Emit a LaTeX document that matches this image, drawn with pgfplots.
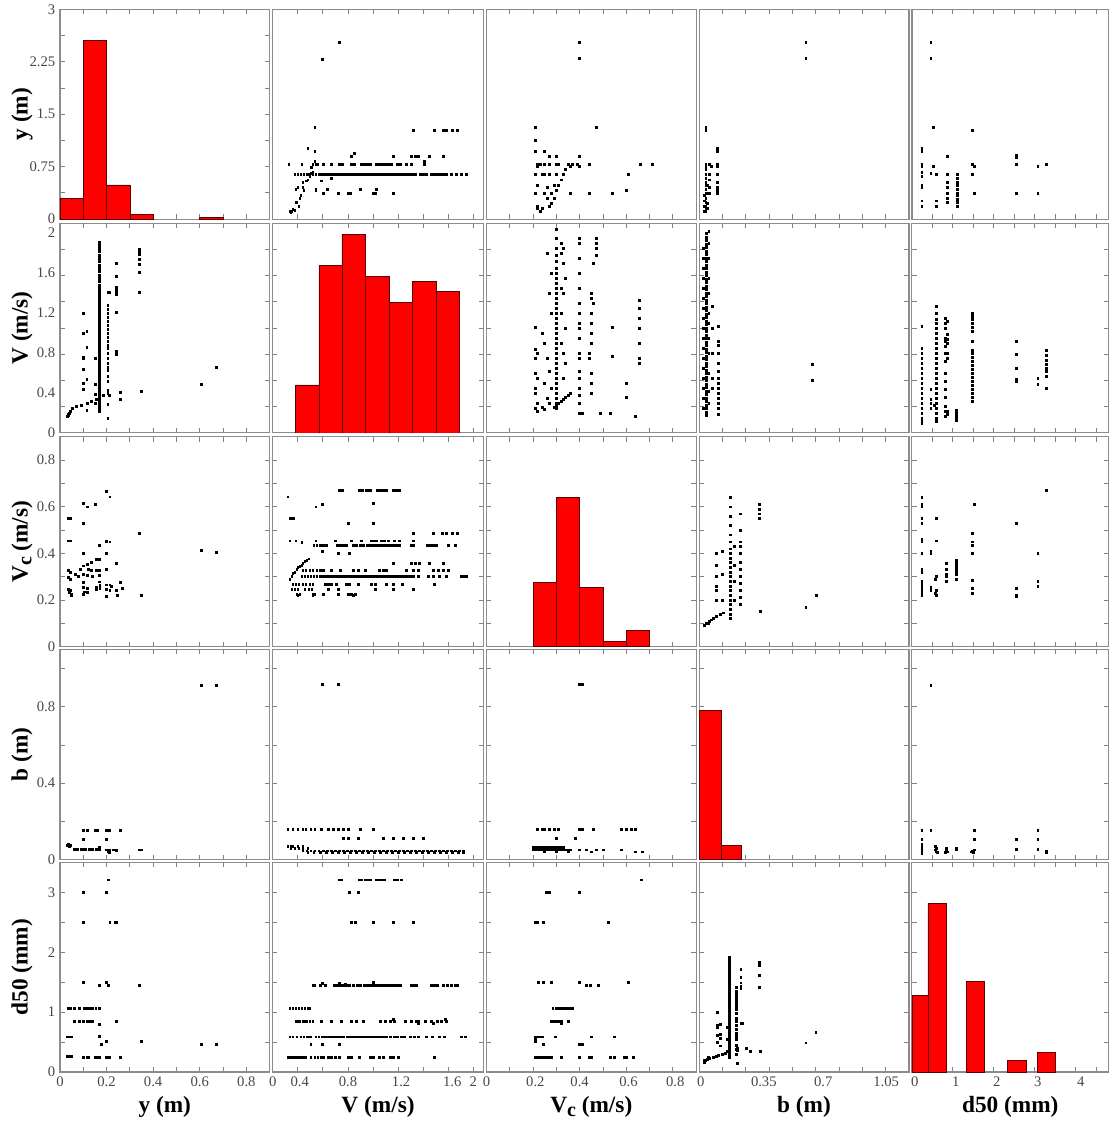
\documentclass[border=0pt]{standalone}
\usepackage{pgfplots}
\pgfplotsset{compat=1.18}
\usepackage{fontspec}
\setmainfont{Liberation Serif}
\definecolor{bardk}{RGB}{90,0,0}
\definecolor{barred}{RGB}{255,0,0}
\pgfplotsset{
 panel/.style={scale only axis, anchor=north west, height=157.5pt,
   axis line style={draw=black!45, line width=0.9pt},
   tick align=inside, major tick length=0pt, minor tick length=3.6pt,
   tick style={draw=black!50, line width=0.6pt},
   xticklabels={}, yticklabels={},
   tick label style={font=\fontsize{11}{13}\selectfont, text=black!72},
   ylabel style={at={(axis description cs:-0.181,0.5)}, anchor=center, font=\fontsize{17.5}{20}\selectfont\bfseries},
   xlabel style={at={(axis description cs:0.5,-0.165)}, anchor=center, font=\fontsize{17.5}{20}\selectfont\bfseries}},
 c1/.style={width=157.5pt, xmin=0, xmax=0.9, xtick={0,0.2,0.4,0.6,0.8}, minor xtick={0.1,0.2,0.3,0.4,0.5,0.6,0.7,0.8}},
 c2/.style={width=158.25pt, xmin=0, xmax=2.1, xtick={0,0.27,0.75,1.28,1.79,2.0}, minor xtick={0.25,0.5,0.75,1,1.25,1.5,1.75,2}},
 c3/.style={width=157.5pt, xmin=0, xmax=0.9, xtick={0,0.21,0.40,0.61,0.81}, minor xtick={0.1,0.2,0.3,0.4,0.5,0.6,0.7,0.8}},
 c4/.style={width=157.5pt, xmin=0, xmax=1.2, xtick={0.01,0.37,0.71,1.07}, minor xtick={0.1333,0.2667,0.4,0.5333,0.6667,0.8,0.9333,1.0667}},
 c5/.style={width=147.75pt, xmin=0, xmax=4.8, xtick={0.07,1.07,2.07,3.07,4.12}, minor xtick={0.5,1,1.5,2,2.5,3,3.5,4,4.5}},
 r1/.style={ymin=0, ymax=0.8, ytick=\empty, minor ytick={0.1,0.2,0.3,0.4,0.5,0.6,0.7}},
 r1h/.style={ymin=0, ymax=3, ytick={0,0.75,1.5,2.25,3}, minor ytick={0.375,0.75,1.125,1.5,1.875,2.25,2.625}},
 r2/.style={ymin=0, ymax=2.1, ytick={0,0.4,0.8,1.2,1.6,2}, minor ytick={0.2625,0.525,0.7875,1.05,1.3125,1.575,1.8375}},
 r3/.style={ymin=0, ymax=0.9, ytick={0,0.2,0.4,0.6,0.8}, minor ytick={0.1,0.2,0.3,0.4,0.5,0.6,0.7,0.8}},
 r4/.style={ymin=0, ymax=1.1, ytick={0,0.4,0.8}, minor ytick={0.2,0.4,0.6,0.8,1.0}},
 r5/.style={ymin=0, ymax=3.5, ytick={0,1,2,3}, minor ytick={0.5,1,1.5,2,2.5,3}},
 bl1/.style={xticklabels={0,0.2,0.4,0.6,0.8}, xlabel={y (m)}},
 bl2/.style={xticklabels={0,0.4,0.8,1.2,1.6,2}, xlabel={V (m/s)}},
 bl3/.style={xticklabels={0,0.2,0.4,0.6,0.8}, xlabel={V\raisebox{-0.35ex}{\fontsize{15}{15}\selectfont c} (m/s)}},
 bl4/.style={xticklabels={0,0.35,0.7,1.05}, xlabel={b (m)}},
 bl5/.style={xticklabels={0,1,2,3,4}, xlabel={d50 (mm)}},
 sc/.style={only marks, mark=square*, mark size=0.7pt, color=black},
 hb/.style={ybar interval, fill=barred, draw=bardk, line width=0.5pt}
}
\begin{document}
\begin{tikzpicture}
\path (0,0) rectangle (833.25pt,-844.5pt);
% ---------------- Row 1 : y (m)
\begin{axis}[panel, c1, r1h, at={(45pt,-6pt)}, yticklabels={0,0.75,1.5,2.25,3}, ylabel={y (m)}]
\addplot[hb] coordinates {(0,0.30) (0.1,2.55) (0.2,0.49) (0.3,0.07) (0.4,0)};
\addplot[hb] coordinates {(0.6,0.03) (0.7,0)};
\end{axis}
\begin{axis}[panel, c2, r1, at={(204.75pt,-6pt)}]
\addplot[sc] coordinates {(0.22,0.17) (0.25,0.17) (0.28,0.17) (0.31,0.17) (0.34,0.17) (0.37,0.17) (0.40,0.17) (0.43,0.17) (0.46,0.17) (0.49,0.17) (0.52,0.17) (0.55,0.17) (0.58,0.17) (0.61,0.17) (0.64,0.17) (0.67,0.17) (0.70,0.17) (0.73,0.17) (0.76,0.17) (0.79,0.17) (0.82,0.17) (0.85,0.17) (0.88,0.17) (0.91,0.17) (0.94,0.17) (0.97,0.17) (1.00,0.17) (1.03,0.17) (1.06,0.17) (1.09,0.17) (1.12,0.17) (1.15,0.17) (1.18,0.17) (1.21,0.17) (1.24,0.17) (1.27,0.17) (1.30,0.17) (1.33,0.17) (1.36,0.17) (1.39,0.17) (1.42,0.17) (1.47,0.17) (1.50,0.17) (1.53,0.17) (1.58,0.17) (1.61,0.17) (1.64,0.17) (1.67,0.17) (1.70,0.17) (1.73,0.17) (1.78,0.17) (1.83,0.17) (1.88,0.17) (1.93,0.17)
(0.50,0.208) (0.58,0.208) (0.66,0.208) (0.69,0.208) (0.78,0.208) (0.81,0.208) (0.88,0.208) (0.91,0.208) (0.94,0.208) (0.97,0.208) (1.03,0.208) (1.06,0.208) (1.09,0.208) (1.12,0.208) (1.15,0.208) (1.18,0.208) (1.24,0.208) (1.27,0.208) (1.33,0.208) (1.38,0.208) (1.51,0.208) (1.51,0.22)
(0.78,0.24) (0.81,0.25) (1.20,0.24) (1.38,0.24) (1.42,0.24) (1.45,0.24) (1.56,0.24) (1.70,0.24)
(1.40,0.34) (1.61,0.34) (1.70,0.34) (1.73,0.34) (1.79,0.34) (1.84,0.34)
(0.50,0.10) (0.65,0.10) (0.75,0.10) (0.77,0.10) (1.00,0.10) (1.02,0.10) (1.20,0.10)
(0.23,0.115) (0.43,0.115) (0.54,0.115) (0.87,0.115) (1.03,0.115)
(0.17,0.03) (0.18,0.027) (0.19,0.03) (0.20,0.037) (0.22,0.035) (0.235,0.063) (0.26,0.05) (0.27,0.08) (0.28,0.09) (0.30,0.12) (0.31,0.11) (0.335,0.146) (0.35,0.15) (0.36,0.172) (0.37,0.165) (0.385,0.197) (0.40,0.18) (0.42,0.22) (0.435,0.21) (0.40,0.21) (0.45,0.21)
(0.42,0.26) (0.35,0.27) (0.42,0.35) (0.16,0.21) (0.29,0.21) (0.58,0.157) (0.43,0.11) (0.48,0.146) (0.66,0.674) (0.49,0.61) (0.38,0.175) (0.30,0.14) (0.25,0.12)};
\end{axis}
\begin{axis}[panel, c3, r1, at={(365.25pt,-6pt)}]
\addplot[sc] coordinates {(0.21,0.35) (0.21,0.30) (0.21,0.26) (0.22,0.21) (0.22,0.20) (0.21,0.17) (0.22,0.13) (0.21,0.10) (0.22,0.05) (0.22,0.04) (0.23,0.03) (0.24,0.04) (0.25,0.26) (0.25,0.21) (0.25,0.17) (0.26,0.12) (0.26,0.08) (0.27,0.24) (0.27,0.21) (0.27,0.17) (0.28,0.10) (0.27,0.05) (0.28,0.06) (0.29,0.08) (0.30,0.11) (0.31,0.13) (0.32,0.15) (0.33,0.17) (0.34,0.19) (0.35,0.21) (0.30,0.17) (0.30,0.21) (0.30,0.24) (0.31,0.21) (0.29,0.13) (0.24,0.17) (0.23,0.21) (0.25,0.10) (0.36,0.20) (0.37,0.21) (0.39,0.21) (0.40,0.20) (0.40,0.24) (0.40,0.675) (0.40,0.615) (0.44,0.21) (0.47,0.35) (0.54,0.10) (0.60,0.11) (0.61,0.17) (0.66,0.21) (0.71,0.21) (0.44,0.10) (0.36,0.10)};
\end{axis}
\begin{axis}[panel, c4, r1, at={(525pt,-6pt)}]
\addplot[sc] coordinates {(0.038,0.35) (0.038,0.34) (0.038,0.21) (0.038,0.20) (0.038,0.19) (0.038,0.17) (0.038,0.155) (0.038,0.14) (0.038,0.13) (0.038,0.115) (0.038,0.10) (0.038,0.08) (0.038,0.065) (0.038,0.05) (0.038,0.04) (0.038,0.03) (0.03,0.03) (0.03,0.05) (0.03,0.07) (0.03,0.09) (0.045,0.04) (0.045,0.06) (0.045,0.10) (0.045,0.13) (0.06,0.21) (0.06,0.17) (0.06,0.15) (0.06,0.12) (0.06,0.10) (0.067,0.20) (0.105,0.27) (0.105,0.26) (0.105,0.21) (0.105,0.20) (0.105,0.17) (0.105,0.14) (0.105,0.12) (0.105,0.11) (0.105,0.10) (0.61,0.674) (0.61,0.615)};
\end{axis}
\begin{axis}[panel, c5, r1, at={(684.75pt,-6pt)}]
\addplot[sc] coordinates {(0.24,0.27) (0.24,0.26) (0.24,0.21) (0.24,0.20) (0.24,0.18) (0.24,0.165) (0.24,0.13) (0.24,0.12) (0.24,0.07) (0.24,0.05) (0.46,0.674) (0.46,0.615) (0.53,0.35) (0.53,0.20) (0.46,0.175) (0.59,0.17) (0.59,0.07) (0.59,0.05) (0.86,0.24) (0.86,0.17) (0.86,0.14) (0.86,0.12) (0.86,0.10) (0.86,0.08) (0.86,0.063) (1.10,0.17) (1.10,0.155) (1.10,0.14) (1.10,0.13) (1.10,0.115) (1.10,0.10) (1.10,0.09) (1.10,0.077) (1.10,0.064) (1.10,0.05) (1.47,0.34) (1.47,0.21) (1.47,0.17) (1.53,0.20) (1.53,0.10) (2.54,0.245) (2.54,0.235) (2.54,0.21) (2.54,0.10) (3.07,0.20) (3.07,0.10) (3.28,0.21)};
\end{axis}
% ---------------- Row 2 : V (m/s)
\begin{axis}[panel, c1, r2, at={(45pt,-166.5pt)}, yticklabels={0,0.4,0.8,1.2,1.6,2}, ylabel={V (m/s)}]
\addplot[sc] coordinates {(0.167,0.22) (0.167,0.25) (0.167,0.28) (0.167,0.31) (0.167,0.34) (0.167,0.37) (0.167,0.40) (0.167,0.43) (0.167,0.46) (0.167,0.49) (0.167,0.52) (0.167,0.55) (0.167,0.58) (0.167,0.61) (0.167,0.64) (0.167,0.67) (0.167,0.70) (0.167,0.73) (0.167,0.76) (0.167,0.79) (0.167,0.82) (0.167,0.85) (0.167,0.88) (0.167,0.91) (0.167,0.94) (0.167,0.97) (0.167,1.00) (0.167,1.03) (0.167,1.06) (0.167,1.09) (0.167,1.12) (0.167,1.15) (0.167,1.18) (0.167,1.21) (0.167,1.24) (0.167,1.27) (0.167,1.30) (0.167,1.33) (0.167,1.36) (0.167,1.39) (0.167,1.42) (0.167,1.45) (0.167,1.48) (0.167,1.52) (0.167,1.55) (0.167,1.58) (0.167,1.62) (0.167,1.65) (0.167,1.68) (0.167,1.72) (0.167,1.75) (0.167,1.78) (0.167,1.82) (0.167,1.85) (0.167,1.88) (0.167,1.91)
(0.205,1.41) (0.205,1.28) (0.205,1.24) (0.205,1.20) (0.205,1.16) (0.205,1.12) (0.205,1.08) (0.205,1.04) (0.205,1.00) (0.205,0.96) (0.205,0.92) (0.205,0.88) (0.205,0.85) (0.205,0.80) (0.205,0.75) (0.205,0.70) (0.205,0.66) (0.205,0.63) (0.205,0.57) (0.205,0.52) (0.205,0.43) (0.205,0.40) (0.205,0.29) (0.205,0.15) (0.21,1.41) (0.21,0.38)
(0.24,1.70) (0.24,1.57) (0.24,1.46) (0.24,1.43) (0.24,1.41) (0.24,1.39) (0.24,1.21) (0.24,0.82) (0.24,0.79)
(0.34,1.84) (0.34,1.82) (0.34,1.79) (0.34,1.74) (0.34,1.69) (0.34,1.61) (0.34,1.41) (0.35,0.42) (0.26,0.41) (0.26,0.34)
(0.10,1.20) (0.10,1.00) (0.10,0.76) (0.10,0.75) (0.10,0.64) (0.10,0.50) (0.10,0.44) (0.115,1.02) (0.115,0.86) (0.115,0.54) (0.115,0.23) (0.15,0.75) (0.15,0.49) (0.15,0.39) (0.15,0.30)
(0.033,0.17) (0.036,0.19) (0.043,0.22) (0.054,0.25) (0.071,0.27) (0.093,0.28) (0.117,0.30) (0.136,0.32) (0.157,0.34) (0.171,0.36) (0.186,0.38) (0.035,0.18) (0.04,0.20)
(0.607,0.49) (0.672,0.66)};
\end{axis}
\begin{axis}[panel, c2, r2, at={(204.75pt,-166.5pt)}]
\addplot[hb] coordinates {(0.23,0.48) (0.46,1.68) (0.69,1.99) (0.92,1.57) (1.16,1.31) (1.39,1.52) (1.63,1.42) (1.86,0)};
\end{axis}
\begin{axis}[panel, c3, r2, at={(365.25pt,-166.5pt)}]
\addplot[sc] coordinates {(0.30,2.04) (0.30,1.95) (0.30,1.85) (0.30,1.78) (0.30,1.72) (0.30,1.65) (0.30,1.60) (0.30,1.55) (0.30,1.50) (0.30,1.45) (0.30,1.40) (0.30,1.35) (0.30,1.30) (0.30,1.25) (0.30,1.20) (0.30,1.15) (0.30,1.10) (0.30,1.05) (0.30,1.00) (0.30,0.95) (0.30,0.90) (0.30,0.85) (0.30,0.80) (0.30,0.75) (0.30,0.70) (0.30,0.65) (0.30,0.60) (0.30,0.55) (0.30,0.50) (0.30,0.45) (0.30,0.40) (0.30,0.35) (0.30,0.30) (0.30,0.25)
(0.21,1.06) (0.21,0.84) (0.22,0.80) (0.21,0.75) (0.21,0.60) (0.22,0.55) (0.21,0.45) (0.21,0.40) (0.22,0.30) (0.21,0.25) (0.22,0.22)
(0.24,1.00) (0.25,0.90) (0.26,0.75) (0.27,0.62) (0.25,0.50) (0.28,0.45) (0.26,0.35) (0.27,0.30) (0.24,0.26) (0.25,0.24) (0.28,1.20) (0.27,1.40) (0.26,1.80) (0.28,1.60)
(0.29,0.26) (0.30,0.28) (0.31,0.30) (0.32,0.32) (0.33,0.34) (0.34,0.36) (0.35,0.38) (0.36,0.40)
(0.32,1.90) (0.33,1.85) (0.32,1.80) (0.33,1.70) (0.34,1.55) (0.32,1.45) (0.33,1.40) (0.32,1.20) (0.34,1.05) (0.32,0.90) (0.33,0.80) (0.34,0.70) (0.33,0.55)
(0.40,1.95) (0.40,1.90) (0.40,1.75) (0.40,1.60) (0.40,1.45) (0.40,1.30) (0.40,1.20) (0.40,1.10) (0.40,1.05) (0.40,0.95) (0.40,0.80) (0.40,0.75) (0.40,0.62) (0.40,0.55) (0.40,0.45) (0.40,0.38) (0.40,0.30) (0.40,0.20)
(0.47,1.95) (0.47,1.90) (0.47,1.85) (0.47,1.78) (0.46,1.70) (0.45,1.40) (0.45,1.35) (0.46,1.30) (0.45,1.20) (0.45,1.10) (0.45,1.00) (0.45,0.90) (0.44,0.80) (0.44,0.75) (0.45,0.60) (0.45,0.50) (0.45,0.40)
(0.54,1.06) (0.54,0.77) (0.60,0.50) (0.60,0.36) (0.655,1.33) (0.655,1.25) (0.655,1.15) (0.655,1.05) (0.655,0.90) (0.655,0.75) (0.655,0.70) (0.64,0.17) (0.49,0.20) (0.41,0.20) (0.53,0.20)};
\end{axis}
\begin{axis}[panel, c4, r2, at={(525pt,-166.5pt)}]
\addplot[sc] coordinates {(0.04,0.18) (0.04,0.21) (0.04,0.25) (0.04,0.28) (0.04,0.32) (0.04,0.35) (0.04,0.39) (0.04,0.42) (0.04,0.46) (0.04,0.49) (0.04,0.53) (0.04,0.56) (0.04,0.60) (0.04,0.63) (0.04,0.67) (0.04,0.70) (0.04,0.74) (0.04,0.77) (0.04,0.81) (0.04,0.84) (0.04,0.88) (0.04,0.91) (0.04,0.95) (0.04,0.98) (0.04,1.02) (0.04,1.05) (0.04,1.09) (0.04,1.12) (0.04,1.16) (0.04,1.19) (0.04,1.23) (0.04,1.26) (0.04,1.30) (0.04,1.33) (0.04,1.37) (0.04,1.40) (0.04,1.44) (0.04,1.47) (0.04,1.51) (0.04,1.54) (0.04,1.58) (0.04,1.61) (0.04,1.65) (0.04,1.68) (0.04,1.72) (0.04,1.75) (0.04,1.79) (0.04,1.82) (0.04,1.86) (0.04,1.89) (0.04,1.93) (0.04,1.96) (0.04,2.00)
(0.025,0.25) (0.025,0.35) (0.025,0.45) (0.025,0.55) (0.025,0.65) (0.025,0.75) (0.025,0.85) (0.025,0.95) (0.025,1.05) (0.025,1.15) (0.025,1.25) (0.025,1.35) (0.025,1.45) (0.025,1.55) (0.025,1.65) (0.025,1.75) (0.025,1.85)
(0.055,0.30) (0.055,0.42) (0.055,0.60) (0.055,0.80) (0.055,0.95) (0.055,1.10) (0.055,1.20) (0.055,1.40) (0.055,1.55) (0.055,1.75) (0.055,1.90) (0.055,2.02)
(0.073,1.27) (0.073,1.05) (0.073,0.80) (0.073,0.55) (0.073,0.45)
(0.109,1.07) (0.109,0.92) (0.109,0.88) (0.109,0.80) (0.109,0.70) (0.109,0.62) (0.109,0.55) (0.109,0.50) (0.109,0.45) (0.109,0.40) (0.109,0.35) (0.109,0.30) (0.109,0.25) (0.109,0.19)
(0.648,0.69) (0.648,0.53)};
\end{axis}
\begin{axis}[panel, c5, r2, at={(684.75pt,-166.5pt)}]
\addplot[sc] coordinates {(0.24,1.07) (0.24,0.85) (0.24,0.80) (0.24,0.75) (0.24,0.70) (0.24,0.65) (0.24,0.60) (0.24,0.55) (0.24,0.50) (0.24,0.45) (0.24,0.40) (0.24,0.35) (0.24,0.30) (0.24,0.25) (0.24,0.20) (0.24,0.15) (0.24,0.12) (0.24,0.10)
(0.46,0.44) (0.46,0.34) (0.46,0.30) (0.46,0.25) (0.54,0.28)
(0.59,1.27) (0.59,1.20) (0.59,1.14) (0.59,1.10) (0.59,1.05) (0.59,1.00) (0.59,0.95) (0.59,0.90) (0.59,0.85) (0.59,0.80) (0.59,0.75) (0.59,0.70) (0.59,0.65) (0.59,0.60) (0.59,0.55) (0.59,0.50) (0.59,0.45) (0.59,0.40) (0.59,0.35) (0.59,0.30) (0.59,0.25) (0.59,0.20) (0.59,0.15) (0.59,0.12)
(0.81,1.15) (0.81,1.10) (0.81,1.05) (0.81,0.95) (0.81,0.92) (0.81,0.87) (0.81,0.80) (0.81,0.72) (0.81,0.60) (0.81,0.52) (0.81,0.44) (0.81,0.36) (0.81,0.27) (0.81,0.22) (0.81,0.17)
(0.86,1.12) (0.86,0.99) (0.86,0.94) (0.86,0.90) (0.86,0.80) (0.86,0.75) (0.86,0.22) (0.86,0.19)
(1.08,0.23) (1.08,0.20) (1.08,0.17) (1.08,0.15) (1.08,0.13)
(1.47,1.20) (1.47,1.17) (1.47,1.14) (1.47,1.10) (1.47,1.06) (1.47,1.02) (1.47,0.92) (1.47,0.83) (1.47,0.80) (1.47,0.76) (1.47,0.72) (1.47,0.68) (1.47,0.64) (1.47,0.60) (1.47,0.56) (1.47,0.52) (1.47,0.48) (1.47,0.44) (1.47,0.40) (1.47,0.36) (1.47,0.32)
(2.54,0.92) (2.54,0.79) (2.54,0.65) (2.54,0.54) (2.54,0.52) (3.07,0.55) (3.07,0.49)
(3.28,0.83) (3.28,0.78) (3.28,0.73) (3.28,0.69) (3.28,0.65) (3.28,0.62) (3.28,0.57) (3.28,0.45)};
\end{axis}
% ---------------- Row 3 : Vc (m/s)
\begin{axis}[panel, c1, r3, at={(45pt,-327pt)}, yticklabels={0,0.2,0.4,0.6,0.8}, ylabel={V\raisebox{-0.35ex}{\fontsize{15}{15}\selectfont c} (m/s)}]
\addplot[sc] coordinates {(0.036,0.551) (0.043,0.551) (0.036,0.454) (0.043,0.454) (0.036,0.326) (0.043,0.319) (0.036,0.297) (0.043,0.290) (0.036,0.247) (0.043,0.240) (0.047,0.225) (0.05,0.218) (0.04,0.232) (0.064,0.311) (0.086,0.333) (0.1,0.347) (0.117,0.355) (0.136,0.363) (0.157,0.373) (0.167,0.373) (0.1,0.614) (0.117,0.600) (0.15,0.612) (0.1,0.529) (0.1,0.400) (0.1,0.311) (0.117,0.307) (0.136,0.326) (0.157,0.326) (0.1,0.275) (0.1,0.255) (0.105,0.235) (0.117,0.25) (0.117,0.232) (0.157,0.255) (0.157,0.247) (0.167,0.278) (0.171,0.264) (0.171,0.25) (0.1,0.224) (0.169,0.435) (0.169,0.328) (0.169,0.307) (0.197,0.40) (0.197,0.216) (0.2,0.668) (0.214,0.643) (0.2,0.453) (0.214,0.45) (0.2,0.33) (0.2,0.265) (0.214,0.265) (0.2,0.245) (0.214,0.24) (0.22,0.26) (0.24,0.357) (0.243,0.242) (0.247,0.22) (0.26,0.276) (0.267,0.251) (0.34,0.487) (0.35,0.221) (0.607,0.412) (0.672,0.404) (0.08,0.30) (0.12,0.33) (0.14,0.30)};
\end{axis}
\begin{axis}[panel, c2, r3, at={(204.75pt,-327pt)}]
\addplot[sc] coordinates {(0.66,0.669) (0.675,0.669) (0.69,0.669) (0.86,0.669) (0.875,0.669) (0.89,0.669) (0.93,0.669) (0.95,0.669) (0.97,0.669) (1.04,0.669) (1.07,0.669) (1.10,0.669) (1.13,0.669) (1.20,0.669) (1.23,0.669) (1.26,0.669)
(0.15,0.643) (0.43,0.60) (0.49,0.612) (1.00,0.614) (0.17,0.551) (0.19,0.551) (0.21,0.551) (0.75,0.529) (1.00,0.529)
(1.40,0.487) (1.60,0.487) (1.69,0.487) (1.73,0.487) (1.79,0.487) (1.84,0.487)
(0.17,0.454) (0.23,0.454) (0.29,0.448) (0.43,0.454) (0.62,0.454) (0.78,0.454) (0.88,0.454) (0.98,0.454) (1.01,0.454) (1.03,0.454) (1.08,0.454) (1.11,0.454) (1.15,0.454) (1.21,0.454) (1.26,0.454) (1.40,0.454)
(0.41,0.433) (0.44,0.433) (0.47,0.433) (0.50,0.433) (0.53,0.433) (0.64,0.433) (0.67,0.433) (0.70,0.433) (0.73,0.433) (0.80,0.433) (0.83,0.433) (0.87,0.433) (0.90,0.433) (0.94,0.433) (0.97,0.433) (1.00,0.433) (1.03,0.433) (1.06,0.433) (1.09,0.433) (1.12,0.433) (1.15,0.433) (1.18,0.433) (1.21,0.433) (1.24,0.433) (1.26,0.433) (1.38,0.433) (1.40,0.433) (1.54,0.433) (1.57,0.433) (1.60,0.433) (1.63,0.433) (1.75,0.433) (1.82,0.433)
(0.49,0.41) (0.65,0.40) (0.76,0.40)
(1.20,0.357) (1.38,0.357) (1.42,0.357) (1.46,0.357) (1.56,0.357) (1.70,0.357)
(0.17,0.29) (0.19,0.30) (0.20,0.313) (0.22,0.32) (0.24,0.33) (0.25,0.34) (0.27,0.345) (0.29,0.35) (0.30,0.358) (0.32,0.365) (0.34,0.37) (0.36,0.377)
(0.30,0.329) (0.33,0.329) (0.37,0.329) (0.40,0.329) (0.44,0.329) (0.47,0.329) (0.50,0.329) (0.58,0.329) (0.67,0.329) (0.80,0.329) (0.85,0.329) (0.92,0.329) (1.06,0.329) (1.10,0.329) (1.13,0.329) (1.33,0.329) (1.40,0.329) (1.45,0.329) (1.60,0.329) (1.65,0.329) (1.70,0.329) (1.75,0.329)
(0.29,0.301) (0.32,0.301) (0.35,0.301) (0.38,0.301) (0.41,0.301) (0.44,0.301) (0.47,0.301) (0.50,0.301) (0.53,0.301) (0.56,0.301) (0.59,0.301) (0.62,0.301) (0.65,0.301) (0.68,0.301) (0.71,0.301) (0.74,0.301) (0.77,0.301) (0.80,0.301) (0.83,0.301) (0.86,0.301) (0.89,0.301) (0.92,0.301) (0.95,0.301) (0.98,0.301) (1.01,0.301) (1.04,0.301) (1.07,0.301) (1.10,0.301) (1.13,0.301) (1.16,0.301) (1.19,0.301) (1.22,0.301) (1.25,0.301) (1.28,0.301) (1.31,0.301) (1.34,0.301) (1.37,0.301) (1.40,0.301) (1.45,0.301) (1.55,0.301) (1.60,0.301) (1.66,0.301) (1.73,0.301) (1.88,0.301) (1.91,0.301) (1.93,0.301)
(0.20,0.268) (0.23,0.268) (0.26,0.268) (0.30,0.268) (0.33,0.268) (0.37,0.268) (0.40,0.268) (0.52,0.268) (0.55,0.268) (0.58,0.268) (0.63,0.268) (0.73,0.268) (0.76,0.268) (0.85,0.268) (0.98,0.268) (1.02,0.268) (1.13,0.268) (1.20,0.268) (1.29,0.268) (1.61,0.268)
(0.19,0.247) (0.22,0.247) (0.25,0.247) (0.32,0.247) (0.36,0.247) (0.39,0.247) (0.55,0.247) (0.65,0.247) (1.02,0.247) (1.20,0.247) (1.40,0.247)
(0.24,0.225) (0.27,0.225) (0.40,0.225) (0.42,0.225) (0.50,0.225) (0.65,0.225) (0.75,0.225) (0.78,0.225) (0.82,0.225) (0.25,0.219) (0.40,0.219) (0.80,0.219)};
\end{axis}
\begin{axis}[panel, c3, r3, at={(365.25pt,-327pt)}]
\addplot[hb] coordinates {(0.2,0.275) (0.3,0.64) (0.4,0.253) (0.5,0.021) (0.6,0.069) (0.7,0)};
\end{axis}
\begin{axis}[panel, c4, r3, at={(525pt,-327pt)}]
\addplot[sc] coordinates {(0.03,0.09) (0.04,0.10) (0.05,0.10) (0.06,0.11) (0.07,0.115) (0.08,0.12) (0.10,0.13) (0.12,0.14) (0.14,0.145)
(0.177,0.64) (0.177,0.60) (0.177,0.56) (0.177,0.52) (0.177,0.48) (0.177,0.45) (0.177,0.42) (0.177,0.40) (0.177,0.38) (0.177,0.36) (0.177,0.34) (0.177,0.32) (0.177,0.30) (0.177,0.28) (0.177,0.26) (0.177,0.24) (0.177,0.22) (0.177,0.20) (0.177,0.18) (0.177,0.16) (0.177,0.14) (0.177,0.12)
(0.10,0.40) (0.10,0.35) (0.10,0.30) (0.10,0.26) (0.10,0.24) (0.10,0.20) (0.13,0.41) (0.13,0.31) (0.13,0.20)
(0.235,0.57) (0.235,0.50) (0.235,0.45) (0.235,0.43) (0.235,0.40) (0.235,0.36) (0.235,0.33) (0.235,0.30) (0.235,0.27) (0.235,0.24) (0.235,0.21) (0.235,0.18)
(0.20,0.43) (0.20,0.35) (0.20,0.28) (0.20,0.20) (0.345,0.61) (0.345,0.59) (0.345,0.57) (0.345,0.55) (0.35,0.15) (0.61,0.17) (0.67,0.22)};
\end{axis}
\begin{axis}[panel, c5, r3, at={(684.75pt,-327pt)}]
\addplot[sc] coordinates {(0.24,0.64) (0.24,0.61) (0.24,0.60) (0.24,0.55) (0.24,0.53) (0.24,0.46) (0.24,0.45) (0.24,0.40) (0.24,0.33) (0.24,0.32) (0.24,0.28) (0.24,0.27) (0.24,0.26) (0.24,0.25) (0.24,0.24) (0.24,0.23) (0.24,0.22) (0.46,0.41) (0.46,0.40) (0.46,0.254) (0.46,0.24) (0.59,0.55) (0.59,0.454) (0.59,0.30) (0.57,0.29) (0.59,0.24) (0.56,0.23) (0.59,0.22) (0.84,0.357) (0.84,0.33) (0.84,0.31) (0.84,0.30) (0.84,0.28) (1.08,0.37) (1.08,0.36) (1.08,0.35) (1.08,0.34) (1.08,0.33) (1.08,0.32) (1.08,0.31) (1.08,0.29) (1.47,0.487) (1.47,0.45) (1.47,0.435) (1.47,0.40) (1.47,0.286) (1.47,0.25) (1.47,0.227) (1.53,0.611) (2.54,0.53) (2.54,0.25) (2.54,0.22) (2.54,0.215) (3.07,0.40) (3.07,0.28) (3.07,0.26) (3.28,0.669)};
\end{axis}
% ---------------- Row 4 : b (m)
\begin{axis}[panel, c1, r4, at={(45pt,-486.75pt)}, yticklabels={0,0.4,0.8}, ylabel={b (m)}]
\addplot[sc] coordinates {(0.036,0.079) (0.04,0.075) (0.045,0.072) (0.03,0.075) (0.04,0.068)
(0.06,0.055) (0.075,0.055) (0.09,0.055) (0.10,0.055) (0.11,0.055) (0.125,0.055) (0.14,0.055) (0.155,0.055) (0.167,0.055)
(0.06,0.05) (0.075,0.05) (0.09,0.05) (0.10,0.05) (0.11,0.05) (0.125,0.05) (0.14,0.05) (0.155,0.05) (0.167,0.05)
(0.10,0.152) (0.117,0.152) (0.15,0.152) (0.16,0.152) (0.20,0.152) (0.21,0.152) (0.26,0.152) (0.10,0.103) (0.20,0.103)
(0.20,0.05) (0.21,0.05) (0.23,0.05) (0.24,0.05) (0.34,0.05) (0.35,0.05) (0.167,0.065) (0.171,0.06) (0.205,0.04) (0.21,0.038) (0.24,0.045)
(0.607,0.915) (0.672,0.915)};
\end{axis}
\begin{axis}[panel, c2, r4, at={(204.75pt,-486.75pt)}]
\addplot[sc] coordinates {(0.15,0.157) (0.20,0.157) (0.25,0.157) (0.30,0.157) (0.33,0.157) (0.38,0.157) (0.42,0.157) (0.48,0.157) (0.55,0.157) (0.60,0.157) (0.65,0.157) (0.70,0.157) (0.75,0.157) (0.87,0.157) (1.00,0.157)
(0.15,0.07) (0.18,0.07) (0.20,0.07) (0.25,0.07) (0.30,0.07) (0.18,0.06) (0.22,0.06) (0.26,0.06) (0.30,0.06) (0.35,0.06)
(0.30,0.045) (0.34,0.045) (0.38,0.045) (0.42,0.045) (0.46,0.045) (0.50,0.045) (0.54,0.045) (0.58,0.045) (0.62,0.045) (0.66,0.045) (0.70,0.045) (0.74,0.045) (0.78,0.045) (0.82,0.045) (0.86,0.045) (0.90,0.045) (0.94,0.045) (0.98,0.045) (1.02,0.045) (1.06,0.045) (1.10,0.045) (1.14,0.045) (1.18,0.045) (1.22,0.045) (1.26,0.045) (1.30,0.045) (1.34,0.045) (1.38,0.045) (1.42,0.045) (1.46,0.045) (1.50,0.045) (1.54,0.045) (1.58,0.045) (1.62,0.045) (1.66,0.045) (1.70,0.045) (1.74,0.045) (1.78,0.045) (1.82,0.045) (1.86,0.045) (1.90,0.045)
(0.35,0.035) (0.41,0.035) (0.47,0.035) (0.53,0.035) (0.59,0.035) (0.65,0.035) (0.71,0.035) (0.77,0.035) (0.83,0.035) (0.89,0.035) (0.95,0.035) (1.01,0.035) (1.07,0.035) (1.13,0.035) (1.19,0.035) (1.25,0.035) (1.31,0.035) (1.37,0.035) (1.43,0.035) (1.49,0.035) (1.55,0.035) (1.61,0.035) (1.67,0.035) (1.73,0.035) (1.79,0.035) (1.85,0.035) (1.90,0.035)
(0.70,0.11) (0.75,0.11) (0.85,0.11) (1.10,0.11) (1.20,0.11) (1.30,0.11) (1.40,0.11) (1.50,0.11)
(0.49,0.916) (0.65,0.916)};
\end{axis}
\begin{axis}[panel, c3, r4, at={(365.25pt,-486.75pt)}]
\addplot[sc] coordinates {(0.22,0.157) (0.24,0.157) (0.25,0.157) (0.27,0.157) (0.29,0.157) (0.31,0.157) (0.40,0.157) (0.41,0.157) (0.46,0.157) (0.58,0.157) (0.60,0.157) (0.62,0.157) (0.64,0.157) (0.38,0.11) (0.30,0.11)
(0.20,0.065) (0.21,0.065) (0.22,0.065) (0.23,0.065) (0.24,0.065) (0.25,0.065) (0.26,0.065) (0.27,0.065) (0.28,0.065) (0.29,0.065) (0.30,0.065) (0.31,0.065) (0.32,0.065) (0.33,0.065)
(0.20,0.05) (0.21,0.05) (0.22,0.05) (0.23,0.05) (0.24,0.05) (0.25,0.05) (0.26,0.05) (0.27,0.05) (0.28,0.05) (0.29,0.05) (0.30,0.05) (0.31,0.05) (0.32,0.05) (0.33,0.05) (0.34,0.05) (0.35,0.05) (0.36,0.05) (0.40,0.05) (0.43,0.05) (0.47,0.05) (0.50,0.05) (0.58,0.05)
(0.25,0.04) (0.30,0.04) (0.35,0.04) (0.45,0.04) (0.64,0.04) (0.67,0.04) (0.40,0.916) (0.41,0.916)};
\end{axis}
\begin{axis}[panel, c4, r4, at={(525pt,-486.75pt)}]
\addplot[hb] coordinates {(0,0.78) (0.126,0.073) (0.24,0)};
\end{axis}
\begin{axis}[panel, c5, r4, at={(684.75pt,-486.75pt)}]
\addplot[sc] coordinates {(0.46,0.911) (0.24,0.153) (0.46,0.153) (1.53,0.153) (3.07,0.153) (0.24,0.104) (1.53,0.104) (2.54,0.104) (3.07,0.104)
(0.24,0.08) (0.24,0.07) (0.24,0.06) (0.24,0.05) (0.24,0.04) (0.24,0.03) (0.56,0.07) (0.59,0.06) (0.57,0.05) (0.60,0.04) (0.62,0.035) (0.84,0.06) (0.84,0.05) (0.86,0.04) (0.82,0.035) (1.08,0.06) (1.08,0.05) (1.47,0.045) (1.50,0.035) (1.53,0.05) (1.45,0.04) (2.54,0.051) (3.07,0.051) (3.28,0.045) (3.28,0.035)};
\end{axis}
% ---------------- Row 5 : d50 (mm)
\begin{axis}[panel, c1, r5, bl1, at={(45pt,-646.5pt)}, yticklabels={0,1,2,3}, ylabel={d50 (mm)}]
\addplot[sc] coordinates {(0.10,3.0) (0.20,3.0) (0.207,3.21) (0.10,2.5) (0.214,2.5) (0.236,2.5) (0.243,2.5) (0.10,1.5) (0.20,1.5) (0.167,1.45) (0.207,1.45) (0.34,1.45)
(0.037,1.07) (0.045,1.07) (0.06,1.07) (0.083,1.07) (0.103,1.07) (0.11,1.07) (0.122,1.07) (0.13,1.07) (0.139,1.07) (0.154,1.07) (0.167,1.07)
(0.06,0.85) (0.083,0.85) (0.10,0.85) (0.117,0.85) (0.128,0.85) (0.139,0.85) (0.24,0.85) (0.167,0.80)
(0.03,0.59) (0.04,0.59) (0.047,0.59) (0.167,0.60) (0.197,0.52) (0.35,0.52) (0.176,0.46) (0.607,0.46) (0.672,0.46)
(0.03,0.27) (0.035,0.27) (0.04,0.27) (0.047,0.27) (0.10,0.25) (0.117,0.25) (0.12,0.24) (0.15,0.25) (0.16,0.25) (0.167,0.25) (0.197,0.25) (0.205,0.25) (0.214,0.25) (0.26,0.25)};
\end{axis}
\begin{axis}[panel, c2, r5, bl2, at={(204.75pt,-646.5pt)}]
\addplot[sc] coordinates {(0.66,3.21) (0.68,3.21) (0.86,3.21) (0.88,3.21) (0.92,3.21) (0.95,3.21) (0.97,3.21) (1.03,3.21) (1.06,3.21) (1.09,3.21) (1.11,3.21) (1.21,3.21) (1.24,3.21) (1.28,3.21)
(0.76,3.0) (0.85,3.0) (0.78,2.5) (0.82,2.5) (1.00,2.5) (1.20,2.5) (1.40,2.5)
(0.40,1.45) (0.42,1.45) (0.47,1.45) (0.52,1.45) (0.61,1.45) (0.64,1.45) (0.67,1.45) (0.70,1.45) (0.73,1.45) (0.76,1.45) (0.80,1.45) (0.84,1.45) (0.87,1.45) (0.91,1.45) (0.94,1.45) (0.97,1.45) (1.00,1.45) (1.03,1.45) (1.06,1.45) (1.09,1.45) (1.12,1.45) (1.15,1.45) (1.18,1.45) (1.21,1.45) (1.24,1.45) (1.27,1.45) (1.38,1.45) (1.41,1.45) (1.43,1.45) (1.58,1.45) (1.61,1.45) (1.64,1.45) (1.70,1.45) (1.74,1.45) (1.78,1.45) (1.82,1.45) (1.84,1.45) (0.49,1.48) (0.66,1.48) (0.72,1.47) (1.00,1.50)
(0.17,1.07) (0.20,1.07) (0.23,1.07) (0.26,1.07) (0.29,1.07) (0.32,1.07) (0.35,1.07) (0.37,1.07)
(0.23,0.85) (0.25,0.85) (0.27,0.85) (0.30,0.85) (0.32,0.85) (0.34,0.85) (0.37,0.85) (0.40,0.85) (0.48,0.85) (0.58,0.85) (0.68,0.85) (0.78,0.85) (0.83,0.85) (0.90,0.85) (1.07,0.85) (1.12,0.85) (1.17,0.85) (1.21,0.85) (1.32,0.85) (1.38,0.85) (1.43,0.85) (1.45,0.85) (1.52,0.85) (1.58,0.85) (1.64,0.85) (1.68,0.85) (1.73,0.85) (1.45,0.82) (1.60,0.82) (1.20,0.88) (1.72,0.88)
(0.17,0.59) (0.20,0.59) (0.24,0.59) (0.28,0.59) (0.31,0.59) (0.34,0.59) (0.36,0.59) (0.38,0.59) (0.43,0.59) (0.46,0.59) (0.49,0.59) (0.52,0.59) (0.55,0.59) (0.58,0.59) (0.61,0.59) (0.64,0.59) (0.67,0.59) (0.70,0.59) (0.74,0.59) (0.77,0.59) (0.80,0.59) (0.83,0.59) (0.86,0.59) (0.89,0.59) (0.92,0.59) (0.95,0.59) (0.98,0.59) (1.01,0.59) (1.04,0.59) (1.07,0.59) (1.10,0.59) (1.13,0.59) (1.17,0.59) (1.21,0.59) (1.24,0.59) (1.28,0.59) (1.31,0.59) (1.37,0.59) (1.41,0.59) (1.45,0.59) (1.53,0.59) (1.59,0.59) (1.66,0.59) (1.71,0.59) (1.88,0.59) (1.92,0.59)
(0.38,0.46) (0.49,0.46) (0.66,0.46)
(0.15,0.25) (0.17,0.25) (0.19,0.25) (0.21,0.25) (0.23,0.25) (0.25,0.25) (0.27,0.25) (0.29,0.25) (0.31,0.25) (0.33,0.25) (0.38,0.25) (0.42,0.25) (0.45,0.25) (0.48,0.25) (0.50,0.25) (0.55,0.25) (0.58,0.25) (0.62,0.25) (0.66,0.25) (0.75,0.25) (0.78,0.25) (0.86,0.25) (0.97,0.25) (1.00,0.25) (1.06,0.25) (1.10,0.25) (1.17,0.25) (1.20,0.25) (1.25,0.25) (1.61,0.25)};
\end{axis}
\begin{axis}[panel, c3, r5, bl3, at={(365.25pt,-646.5pt)}]
\addplot[sc] coordinates {(0.663,3.21) (0.256,3.0) (0.27,3.0) (0.40,3.0) (0.21,2.5) (0.22,2.5) (0.245,2.5) (0.523,2.5)
(0.224,1.5) (0.245,1.5) (0.28,1.5) (0.40,1.5) (0.43,1.45) (0.445,1.45) (0.48,1.45) (0.61,1.5)
(0.285,1.07) (0.30,1.07) (0.31,1.07) (0.32,1.07) (0.33,1.07) (0.34,1.07) (0.35,1.07) (0.36,1.07) (0.37,1.07)
(0.28,0.85) (0.29,0.85) (0.30,0.85) (0.31,0.85) (0.32,0.85) (0.35,0.85) (0.32,0.81)
(0.21,0.59) (0.22,0.59) (0.23,0.59) (0.24,0.59) (0.295,0.59) (0.45,0.59) (0.55,0.59) (0.21,0.56) (0.21,0.52)
(0.245,0.46) (0.40,0.46) (0.41,0.46)
(0.21,0.25) (0.22,0.25) (0.225,0.25) (0.23,0.25) (0.24,0.25) (0.25,0.25) (0.26,0.25) (0.27,0.25) (0.28,0.25) (0.32,0.25) (0.40,0.25) (0.44,0.25) (0.45,0.25) (0.53,0.25) (0.55,0.25) (0.59,0.25) (0.60,0.25) (0.63,0.25)};
\end{axis}
\begin{axis}[panel, c4, r5, bl4, at={(525pt,-646.5pt)}]
\addplot[sc] coordinates {(0.171,1.92) (0.171,1.88) (0.171,1.84) (0.171,1.80) (0.171,1.75) (0.171,1.70) (0.171,1.65) (0.171,1.60) (0.171,1.55) (0.171,1.50) (0.171,1.45) (0.171,1.40) (0.171,1.35) (0.171,1.30) (0.171,1.25) (0.171,1.20) (0.171,1.15) (0.171,1.10) (0.171,1.05) (0.171,1.00) (0.171,0.95) (0.171,0.90) (0.171,0.85) (0.171,0.80) (0.171,0.75) (0.171,0.70) (0.171,0.65) (0.171,0.60) (0.171,0.55) (0.171,0.50) (0.171,0.45) (0.171,0.40) (0.171,0.35) (0.171,0.30) (0.171,0.25)
(0.21,1.42) (0.21,1.35) (0.21,1.30) (0.21,1.25) (0.21,1.20) (0.21,1.15) (0.21,1.10) (0.21,1.05) (0.21,0.98) (0.21,0.90) (0.21,0.85) (0.21,0.78) (0.21,0.72) (0.21,0.65) (0.21,0.60) (0.21,0.55) (0.21,0.45) (0.21,0.38) (0.21,0.30)
(0.238,1.72) (0.238,1.58) (0.238,1.49) (0.238,1.43) (0.238,1.39) (0.238,0.81) (0.245,0.82)
(0.343,1.84) (0.343,1.80) (0.343,1.78) (0.343,1.62) (0.343,1.41)
(0.105,1.00) (0.105,0.78) (0.105,0.75) (0.105,0.62) (0.105,0.50) (0.12,0.80) (0.12,0.63) (0.12,0.56) (0.12,0.44) (0.16,0.75) (0.16,0.55) (0.16,0.35)
(0.029,0.17) (0.037,0.19) (0.046,0.21) (0.057,0.23) (0.08,0.25) (0.096,0.26) (0.11,0.28) (0.13,0.30) (0.15,0.32) (0.03,0.20) (0.05,0.24)
(0.22,0.40) (0.22,0.37) (0.22,0.14) (0.27,0.40) (0.29,0.35) (0.35,0.35) (0.61,0.49) (0.667,0.66)};
\end{axis}
\begin{axis}[panel, c5, r5, bl5, at={(684.75pt,-646.5pt)}]
\addplot[hb] coordinates {(0,1.28) (0.39,2.82) (0.85,0)};
\addplot[hb] coordinates {(1.32,1.52) (1.76,0)};
\addplot[hb] coordinates {(2.34,0.2) (2.78,0)};
\addplot[hb] coordinates {(3.05,0.33) (3.51,0)};
\end{axis}
\end{tikzpicture}
\end{document}
